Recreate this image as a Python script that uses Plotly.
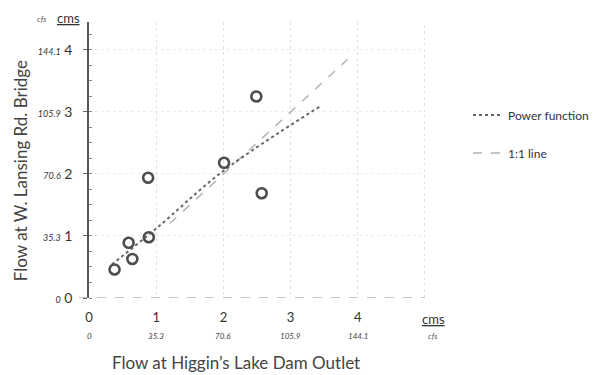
import plotly.graph_objects as go

# Observed flows (cms)
obs_x = [0.38, 0.59, 0.645, 0.89, 0.88, 2.01, 2.49, 2.57]
obs_y = [0.46, 0.89, 0.63, 0.98, 1.94, 2.18, 3.25, 1.69]

# Power function fit
power_x = [0.34, 1.0, 2.0, 3.44]
power_y = [0.54, 1.12, 2.05, 3.09]

# 1:1 line
one_x = [1.2, 3.85]
one_y = [1.2, 3.85]

# Tick labels
cms_ticks = [0, 1, 2, 3, 4]
cfs_ticks = ["0", "35.3", "70.6", "105.9", "144.1"]

FONT = "Lato, 'Open Sans', sans-serif"
GREY = "#4d4d4d"

fig = go.Figure()

fig.add_trace(go.Scatter(
    x=one_x, y=one_y, mode="lines", name="1:1 line", legend="legend2",
    line=dict(color="#b4b4b4", width=1.5, dash="dash"),
))
fig.add_trace(go.Scatter(
    x=power_x, y=power_y, mode="lines", name="Power function", legend="legend",
    line=dict(color="#666666", width=2, dash="dot", shape="spline"),
))
fig.add_trace(go.Scatter(
    x=obs_x, y=obs_y, mode="markers", showlegend=False,
    marker=dict(symbol="circle-open", size=10, color=GREY, line=dict(width=2.6, color=GREY)),
))

ytext = [f"<span style='font-size:9px'><i>{f}</i></span> {c}" for c, f in zip(cms_ticks, cfs_ticks)]

fig.update_xaxes(
    range=[0, 5], tickvals=cms_ticks, ticktext=[str(c) for c in cms_ticks],
    showgrid=True, gridcolor="#e2e2e2", griddash="dot", gridwidth=1,
    showline=False, zeroline=False, ticks="",
    tickfont=dict(family=FONT, size=13, color="#333"),
    ticklabelstandoff=10,
)
fig.update_yaxes(
    range=[0, 4.45], tickvals=cms_ticks, ticktext=ytext,
    showgrid=True, gridcolor="#ececec", griddash="dot", gridwidth=1,
    showline=True, linecolor="#555", linewidth=1.5, mirror=False,
    zeroline=False, ticks="outside", ticklen=4, tickcolor="#666",
    minor=dict(ticks="inside", ticklen=3, dtick=0.25, tickcolor="#888", showgrid=False),
    tickfont=dict(family=FONT, size=14, color="#333"),
    ticklabelstandoff=8,
)

# cfs labels under x ticks
for c, f in zip(cms_ticks, cfs_ticks):
    fig.add_annotation(xref="x", yref="paper", x=c, y=-0.137, xanchor="center", yanchor="middle",
                       text=f"<i>{f}</i>", showarrow=False, borderpad=0,
                       font=dict(family=FONT, size=8, color="#444"))

# x baseline (dashed) and right border
fig.add_shape(type="line", xref="paper", yref="y", x0=-0.03, x1=1, y0=0, y1=0,
              line=dict(color="#8a8a8a", width=1.2, dash="dash"))
fig.add_shape(type="line", xref="x", yref="paper", x0=5, x1=5, y0=0, y1=1,
              line=dict(color="#c8c8c8", width=1, dash="dot"))

# unit labels
fig.add_annotation(xref="paper", yref="paper", x=1.025, y=-0.075, xanchor="center", yanchor="middle",
                   text="<u>cms</u>", showarrow=False, font=dict(family=FONT, size=13, color="#333"))
fig.add_annotation(xref="paper", yref="paper", x=1.025, y=-0.137, xanchor="center", yanchor="middle",
                   text="<i>cfs</i>", showarrow=False, borderpad=0, font=dict(family=FONT, size=8, color="#555"))
fig.add_annotation(xref="paper", yref="paper", x=-0.06, y=1.015, xanchor="center", yanchor="middle",
                   text="<u>cms</u>", showarrow=False, font=dict(family=FONT, size=13, color="#333"))
fig.add_annotation(xref="paper", yref="paper", x=-0.14, y=1.01, xanchor="center", yanchor="middle",
                   text="<i>cfs</i>", showarrow=False, font=dict(family=FONT, size=8, color="#555"))

# axis titles
fig.add_annotation(xref="paper", yref="paper", x=0.4375, y=-0.235, xanchor="center", yanchor="middle",
                   text="Flow at Higgin\u2019s Lake Dam Outlet",
                   showarrow=False, font=dict(family=FONT, size=17, color="#444"))
fig.add_annotation(xref="paper", yref="paper", x=-0.205, y=0.46, xanchor="center", yanchor="middle",
                   text="Flow at W. Lansing Rd. Bridge",
                   textangle=-90, showarrow=False, font=dict(family=FONT, size=17, color="#444"))

legend_common = dict(xanchor="left", yanchor="middle",
                     font=dict(family=FONT, size=12, color="#333"),
                     itemwidth=30, bgcolor="rgba(0,0,0,0)")

fig.update_layout(
    width=597, height=375,
    margin=dict(l=89, r=172, t=22, b=77, autoexpand=False),
    paper_bgcolor="white", plot_bgcolor="white",
    legend=dict(x=1.128, y=0.663, **legend_common),
    legend2=dict(x=1.128, y=0.525, **legend_common),
)

fig.write_html("out.html")
